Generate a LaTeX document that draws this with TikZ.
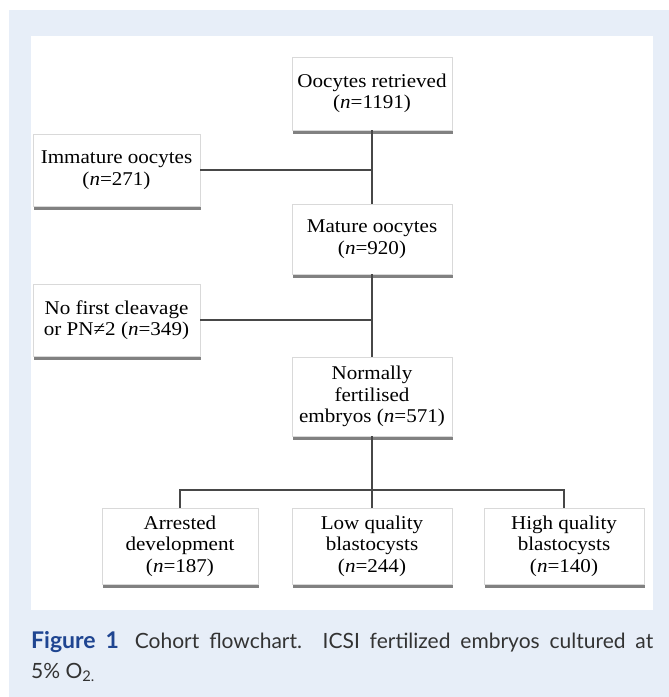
\documentclass[tikz,border=0pt]{standalone}
\usepackage{fontspec}
\setmainfont[FakeStretch=1.08]{Liberation Serif}
\newfontfamily\capfont{Lato}
\usetikzlibrary{shadows}
\definecolor{panelblue}{HTML}{E7EEF8}
\definecolor{figblue}{HTML}{1F4591}
\definecolor{linegray}{HTML}{474747}
\definecolor{captext}{HTML}{333333}
\tikzset{
	stage/.style={draw=black!15, fill=white, inner sep=0pt, align=center,
		font=\fontsize{19.5}{21.5}\selectfont,
		drop shadow={shadow xshift=0.8pt, shadow yshift=-3.5pt, fill=black!70, opacity=0.7}},
	link/.style={draw=linegray, line width=1.3pt}
}
\begin{document}
\begin{tikzpicture}[x=1pt, y=-1pt]
	\useasboundingbox (0,0) rectangle (669,697);
	\fill[panelblue] (9,10) rectangle (669,697);
	\fill[white] (31,36) rectangle (653,610);

	\node[stage, minimum width=160pt, minimum height=73pt] (retrieved) at (372, 93.5) {Oocytes retrieved\\(\textit{n}=1191)};
	\node[stage, minimum width=167pt, minimum height=72pt] (immature) at (116.5, 170) {Immature oocytes\\(\textit{n}=271)};
	\node[stage, minimum width=160pt, minimum height=70pt] (mature) at (372, 239) {Mature oocytes\\(\textit{n}=920)};
	\node[stage, minimum width=167pt, minimum height=72pt] (nofirst) at (116.5, 320) {No first cleavage\\or PN≠2 (\textit{n}=349)};
	\node[stage, minimum width=160pt, minimum height=79pt] (normal) at (372, 396.5) {Normally\\fertilised\\embryos (\textit{n}=571)};

	\node[stage, minimum width=156pt, minimum height=76pt] (arrested) at (180, 546) {Arrested\\development\\(\textit{n}=187)};
	\node[stage, minimum width=160pt, minimum height=76pt] (lowq) at (372, 546) {Low quality\\blastocysts\\(\textit{n}=244)};
	\node[stage, minimum width=160pt, minimum height=76pt] (highq) at (564, 546) {High quality\\blastocysts\\(\textit{n}=140)};

	\draw[link] (retrieved.south) -- (mature.north);
	\draw[link] (immature.east) -- (immature.east -| retrieved.south);
	\draw[link] (mature.south) -- (normal.north);
	\draw[link] (nofirst.east) -- (nofirst.east -| mature.south);

	\coordinate (split) at (372, 490);
	\draw[link] (normal.south) -- (lowq.north);
	\draw[link] (arrested.north) -- (arrested.north |- split) -- (highq.north |- split) -- (highq.north);

	\node[anchor=north west, inner sep=0pt, text width=622pt, align=justify,
		font=\capfont\fontsize{21}{30}\selectfont, text=captext] (caption) at (31, 631)
		{{\fontsize{23}{30}\selectfont\bfseries\color{figblue}Figure\hspace{10pt}1}\hspace{6pt} Cohort flowchart. ICSI fertilized embryos cultured at\linebreak 5\%~O\textsubscript{2.}};
\end{tikzpicture}
\end{document}
